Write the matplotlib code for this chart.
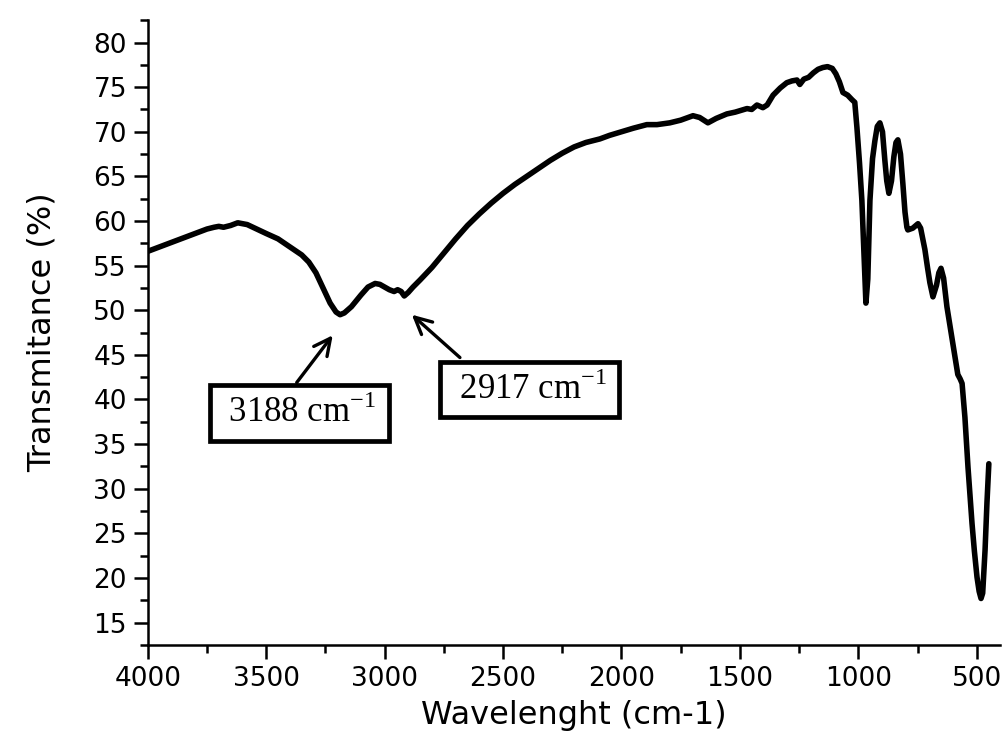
import matplotlib

matplotlib.use("Agg")
import matplotlib.pyplot as plt
from matplotlib.ticker import MultipleLocator

# FTIR spectrum
wavenumber = [
    4000, 3900, 3800, 3750, 3720, 3700, 3680, 3650, 3620, 3580, 3500, 3450,
    3400, 3350, 3320, 3290, 3260, 3230, 3205, 3188, 3170, 3140, 3100, 3070,
    3040, 3020, 3000, 2980, 2960, 2945, 2930, 2917, 2900, 2880, 2850, 2800,
    2750, 2700, 2650, 2600, 2550, 2500, 2450, 2400, 2350, 2300, 2250, 2200,
    2150, 2091, 2050, 2000, 1950, 1893, 1850, 1796, 1750, 1698, 1670, 1635,
    1600, 1555, 1520, 1470, 1450, 1428, 1403, 1385, 1360, 1330, 1302, 1280,
    1259, 1247, 1230, 1210, 1190, 1170, 1150, 1130, 1110, 1095, 1080, 1065,
    1045, 1027, 1015, 1006, 995, 985, 975, 968, 960, 951, 940, 930, 920,
    909, 898, 888, 880, 871, 860, 850, 841, 833, 822, 812, 803, 795, 791,
    770, 748, 737, 727, 719, 708, 698, 685, 670, 660, 651, 640, 626, 615,
    605, 595, 584, 580, 570, 562, 550, 537, 520, 510, 499, 490, 482, 475,
    465, 457, 449,
]
transmittance = [
    56.6, 57.6, 58.6, 59.1, 59.3, 59.4, 59.3, 59.5, 59.8, 59.6, 58.6, 58.0,
    57.1, 56.2, 55.4, 54.2, 52.5, 50.8, 49.8, 49.5, 49.7, 50.4, 51.7, 52.6,
    53.0, 52.9, 52.6, 52.3, 52.1, 52.3, 52.1, 51.6, 52.0, 52.6, 53.4, 54.8,
    56.4, 58.0, 59.5, 60.8, 62.0, 63.1, 64.1, 65.0, 65.9, 66.8, 67.6, 68.3,
    68.8, 69.2, 69.6, 70.0, 70.4, 70.8, 70.8, 71.0, 71.3, 71.8, 71.6, 71.0,
    71.5, 72.0, 72.2, 72.6, 72.5, 73.0, 72.7, 73.0, 74.1, 74.9, 75.5, 75.7,
    75.8, 75.3, 75.9, 76.1, 76.6, 77.0, 77.2, 77.3, 77.1, 76.5, 75.6, 74.4,
    74.1, 73.6, 73.3, 70.5, 66.5, 62.3, 55.5, 50.8, 53.5, 62.3, 67.0, 69.0,
    70.6, 71.0, 70.0, 66.8, 64.5, 63.1, 64.5, 67.2, 68.8, 69.1, 67.5, 64.2,
    61.0, 59.3, 59.0, 59.2, 59.7, 59.2, 57.9, 56.8, 54.8, 53.1, 51.5, 52.8,
    54.2, 54.7, 53.6, 50.4, 48.6, 47.0, 45.3, 43.6, 42.8, 42.3, 41.8, 38.0,
    32.4, 26.1, 23.0, 20.1, 18.5, 17.7, 18.3, 23.1, 28.4, 32.8,
]

x_ticks = [4000, 3500, 3000, 2500, 2000, 1500, 1000, 500]
y_ticks = [15, 20, 25, 30, 35, 40, 45, 50, 55, 60, 65, 70, 75, 80]

# peak annotations: label, peak position, box centre, arrow tail
peak_labels = [" 3188 cm$^{-1}$ ", " 2917 cm$^{-1}$ "]
peak_xy = [(3219, 47.2), (2885, 49.5)]
box_xy = [(3360, 38.5), (2387, 41.1)]
tail_xy = [(3371, 41.9), (2682, 44.7)]

plt.rcParams["mathtext.fontset"] = "custom"
plt.rcParams["mathtext.rm"] = "Liberation Serif"

fig = plt.figure(figsize=(10.05, 7.49), dpi=100)
ax = fig.add_axes([0.147, 0.139, 0.848, 0.834])

ax.plot(wavenumber, transmittance, color="black", linewidth=4,
        solid_joinstyle="round", solid_capstyle="round")

ax.set_xlim(4000, 402)
ax.set_ylim(12.5, 82.5)
ax.set_xticks(x_ticks)
ax.set_yticks(y_ticks)
ax.xaxis.set_minor_locator(MultipleLocator(250))
ax.yaxis.set_minor_locator(MultipleLocator(2.5))

for side in ("top", "right"):
    ax.spines[side].set_visible(False)
for side in ("left", "bottom"):
    ax.spines[side].set_linewidth(1.8)

ax.tick_params(which="major", length=10, width=1.8, labelsize=19, pad=5)
ax.tick_params(which="minor", length=6, width=1.8)

ax.set_xlabel("Wavelenght (cm-1)", fontsize=23, labelpad=6)
ax.set_ylabel("Transmitance (%)", fontsize=23, labelpad=26)

for label, peak, box, tail in zip(peak_labels, peak_xy, box_xy, tail_xy):
    ax.annotate("", xy=peak, xytext=tail,
                arrowprops=dict(arrowstyle="->", color="black", lw=2.4,
                                mutation_scale=30, shrinkA=0, shrinkB=0))
    ax.text(box[0], box[1], label, ha="center", va="center",
            fontsize=25, family="Liberation Serif",
            bbox=dict(boxstyle="square,pad=0.3", facecolor="white",
                      edgecolor="black", linewidth=3.4))

fig.savefig("out.png", dpi=100)
